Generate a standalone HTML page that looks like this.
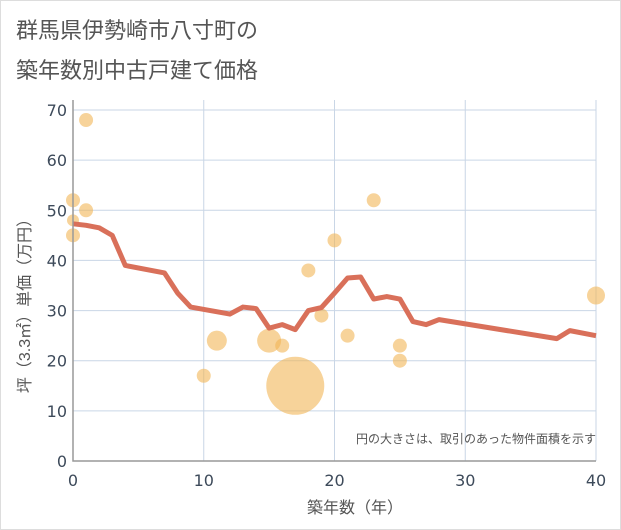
<!DOCTYPE html>
<html><head><meta charset="utf-8"><style>
html,body{margin:0;padding:0;background:#fff}
svg{display:block;font-family:"Liberation Sans","Noto Sans CJK JP",sans-serif}
</style></head><body>
<svg id="c" width="621" height="530" viewBox="0 0 621 530">
<rect x="0.5" y="0.5" width="620" height="529" fill="#fff" stroke="#ddd"/>
<text x="16" y="38" font-size="22" fill="#555">群馬県伊勢崎市八寸町の</text>
<text x="16" y="78" font-size="22" fill="#555">築年数別中古戸建て価格</text>
<g id="grid"></g><g id="bubbles"></g><g id="line"></g><g id="axes"></g>
<text x="596" y="443" font-size="12" fill="#555" text-anchor="end">円の大きさは、取引のあった物件面積を示す</text>
<text x="355" y="513" font-size="16" fill="#555" text-anchor="middle">築年数（年）</text>
<text transform="translate(30,302) rotate(-90)" font-size="16" fill="#555" text-anchor="middle">坪（3.3㎡）単価（万円）</text>
</svg>
<script>
const xTicks=[0,10,20,30,40];
const yTicks=[0,10,20,30,40,50,60,70];
const lineYears=[0,1,2,3,4,7,8,9,12,13,14,15,16,17,18,19,20,21,22,23,24,25,26,27,28,37,38,40];
const lineValues=[47.3,47,46.5,45,39,37.5,33.5,30.7,29.3,30.7,30.4,26.5,27.2,26.2,30,30.6,33.5,36.5,36.7,32.3,32.8,32.3,27.8,27.2,28.2,24.4,26,25];
const bubbleYears=[0,0,0,1,1,10,11,15,16,17,18,19,20,21,23,25,25,40];
const bubbleValues=[52,48,45,68,50,17,24,24,23,15,38,29,44,25,52,23,20,33];
const bubbleSizes=[7,6,7,7,7,7,10,12,7,29,7,7,7,7,7,7,7,9];
const NS='http://www.w3.org/2000/svg';
const X=v=>73+v*(596-73)/40, Y=v=>461-v*(461-110)/70;
function mk(t,a,p){const e=document.createElementNS(NS,t);for(const k in a)e.setAttribute(k,a[k]);document.getElementById(p).appendChild(e);return e;}
xTicks.forEach(t=>{
 const g=mk('line',{x1:X(t),x2:X(t),y1:100,y2:461,stroke:'#c9d6e6','stroke-width':1},'grid');
 
 
 const l=mk('text',{x:X(t),y:486,'font-size':16,fill:'#3d4a5a','text-anchor':'middle','font-family':'DejaVu Sans, sans-serif'},'axes');l.textContent=t;
 
 
});
yTicks.forEach(t=>{
 const g=mk('line',{x1:73,x2:596,y1:Y(t),y2:Y(t),stroke:'#c9d6e6','stroke-width':1},'grid');
 
 
 const l=mk('text',{x:67,y:Y(t)+6,'font-size':16,fill:'#3d4a5a','text-anchor':'end','font-family':'DejaVu Sans, sans-serif'},'axes');l.textContent=t;
 
 
});
const ax=mk('path',{d:'M73 100 V461 H596',fill:'none',stroke:'#999','stroke-width':1.5},'axes');


bubbleYears.forEach((yr,i)=>{
 const c=mk('circle',{cx:X(yr),cy:Y(bubbleValues[i]),r:bubbleSizes[i],fill:'#f2b556','fill-opacity':0.6},'bubbles');
 
 
});
const p=mk('polyline',{points:lineYears.map((yr,i)=>X(yr)+','+Y(lineValues[i])).join(' '),fill:'none',stroke:'#d9705a','stroke-width':5,'stroke-linejoin':'round'},'line');


</script>
</body></html>
